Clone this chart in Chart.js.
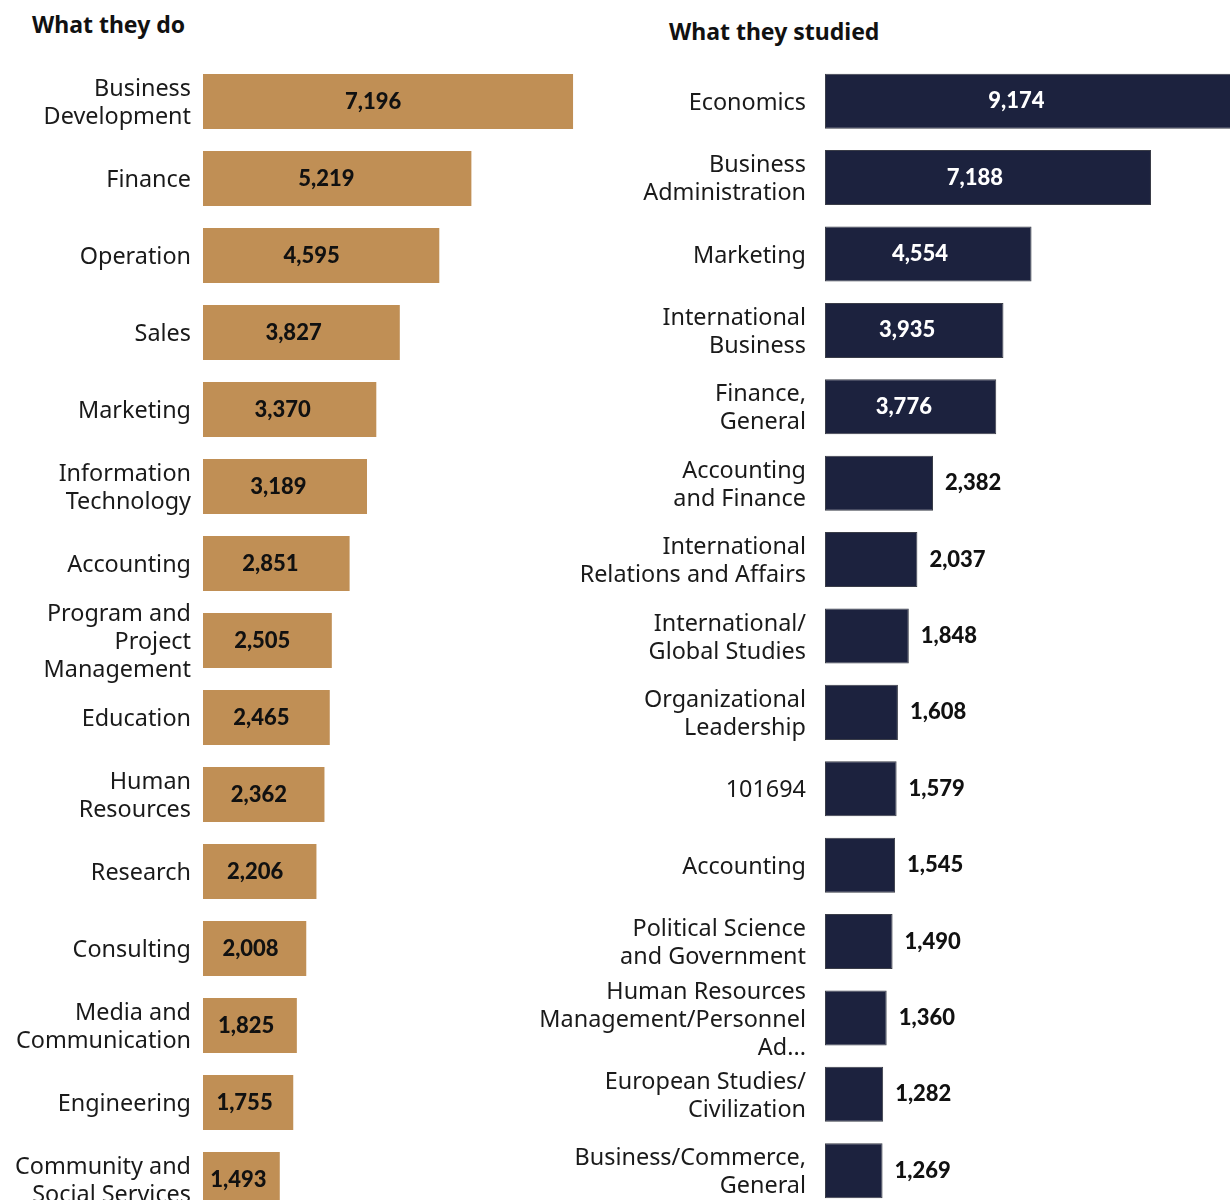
<!DOCTYPE html>
<html>
<head>
<meta charset="utf-8">
<script src="https://cdn.jsdelivr.net/npm/chart.js@4.4.1/dist/chart.umd.min.js"></script>
<style>
    html, body { margin: 0; padding: 0; background: #fff; overflow: hidden; }
    body { width: 1230px; height: 1200px; position: relative; font-family: 'Noto Sans', sans-serif; }
    .title { position: absolute; font-weight: bold; font-size: 23px; color: #111; line-height: 30px; white-space: nowrap; }
    #title-do { left: 32px; top: 9px; }
    #title-studied { left: 669px; top: 16px; }
    .chart-box { position: absolute; top: 0; }
    /* taller than the page: the last row runs off the bottom edge */
    #box-do { left: 0; width: 600px; height: 1258px; }
    #box-studied { left: 520px; width: 710px; height: 1242px; }
</style>
</head>
<body>
<div class="title" id="title-do">What they do</div>
<div class="title" id="title-studied">What they studied</div>
<div class="chart-box" id="box-do"><canvas id="doChart"></canvas></div>
<div class="chart-box" id="box-studied"><canvas id="studiedChart"></canvas></div>

<script>
// occupations
const jobLabels = [
    ['Business', 'Development'], 'Finance', 'Operation', 'Sales', 'Marketing',
    ['Information', 'Technology'], 'Accounting', ['Program and', 'Project', 'Management'],
    'Education', ['Human', 'Resources'], 'Research', 'Consulting',
    ['Media and', 'Communication'], 'Engineering', ['Community and', 'Social Services']
];
const jobCounts = [7196, 5219, 4595, 3827, 3370, 3189, 2851, 2505, 2465, 2362, 2206, 2008, 1825, 1755, 1493];

// fields of study
const studyLabels = [
    'Economics', ['Business', 'Administration'], 'Marketing', ['International', 'Business'],
    ['Finance,', 'General'], ['Accounting', 'and Finance'], ['International', 'Relations and Affairs'],
    ['International/', 'Global Studies'], ['Organizational', 'Leadership'], '101694', 'Accounting',
    ['Political Science', 'and Government'], ['Human Resources', 'Management/Personnel', 'Ad...'],
    ['European Studies/', 'Civilization'], ['Business/Commerce,', 'General']
];
const studyCounts = [9174, 7188, 4554, 3935, 3776, 2382, 2037, 1848, 1608, 1579, 1545, 1490, 1360, 1282, 1269];

// writes the count on each bar, inside when it fits, otherwise just past the end
const valueLabels = {
    id: 'valueLabels',
    afterDatasetsDraw(chart, args, opts) {
        const ctx = chart.ctx;
        const meta = chart.getDatasetMeta(0);
        const values = chart.data.datasets[0].data;
        ctx.save();
        ctx.font = '900 22px Lato';
        ctx.textBaseline = 'middle';
        meta.data.forEach((bar, i) => {
            const len = bar.x - bar.base;
            const text = values[i].toLocaleString('en-US');
            if (len >= opts.minInside) {
                ctx.fillStyle = opts.insideColor;
                ctx.textAlign = 'center';
                ctx.fillText(text, bar.base + len * opts.centerAt, bar.y);
            } else {
                ctx.fillStyle = opts.outsideColor;
                ctx.textAlign = 'left';
                ctx.fillText(text, bar.x + opts.offset, bar.y);
            }
        });
        ctx.restore();
    }
};

function makeChart(canvasId, labels, values, cfg) {
    return new Chart(document.getElementById(canvasId), {
        type: 'bar',
        data: {
            labels: labels,
            datasets: [{
                data: values,
                backgroundColor: cfg.color,
                borderColor: cfg.border,
                borderWidth: cfg.borderWidth,
                borderSkipped: false,
                barPercentage: 1,
                categoryPercentage: cfg.barShare
            }]
        },
        options: {
            indexAxis: 'y',
            responsive: true,
            maintainAspectRatio: false,
            animation: false,
            layout: { padding: { top: cfg.top, right: 0, bottom: 0, left: 0 } },
            plugins: {
                legend: { display: false },
                tooltip: { enabled: false },
                valueLabels: cfg.labels
            },
            scales: {
                x: { display: false, min: 0, max: cfg.max },
                y: {
                    grid: { display: false, drawTicks: false },
                    border: { display: false },
                    ticks: {
                        color: '#1a1a1a',
                        padding: cfg.tickPad,
                        labelOffset: 2,
                        autoSkip: false,
                        font: { family: 'Noto Sans', size: 23.4, lineHeight: 1.2 }
                    },
                    afterFit: scale => { scale.width = cfg.axisWidth; }
                }
            }
        },
        plugins: [valueLabels]
    });
}

makeChart('doChart', jobLabels, jobCounts, {
    color: '#C08F55', border: '#C08F55', borderWidth: 0, barShare: 0.715,
    top: 63, max: 7720, axisWidth: 203, tickPad: 12,
    labels: { minInside: 0, insideColor: '#111', outsideColor: '#111', offset: 12, centerAt: 0.46 }
});

makeChart('studiedChart', studyLabels, studyCounts, {
    color: '#1C223E', border: '#3a3d48', borderWidth: 1, barShare: 0.72,
    top: 63, max: 8930, axisWidth: 305, tickPad: 19,
    labels: { minInside: 140, insideColor: '#fff', outsideColor: '#111', offset: 12, centerAt: 0.46 }
});
</script>
</body>
</html>
